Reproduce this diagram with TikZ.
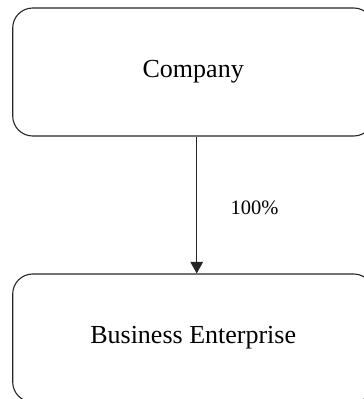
\documentclass[tikz,border=0pt]{standalone}
\usepackage{fontspec}
\setmainfont{Liberation Serif}
\usetikzlibrary{arrows.meta}
\begin{document}
\begin{tikzpicture}[x=1pt,y=-1pt,
  entity/.style={draw=black!85, line width=1.1pt, rounded corners=20pt,
    minimum width=361pt, minimum height=128pt, inner sep=0pt,
    font=\fontsize{26}{30}\selectfont},
  link/.style={draw=black!85, line width=1.1pt,
    -{Triangle[width=12.6pt,length=11.6pt]}},
  share/.style={font=\fontsize{20.5}{24}\selectfont, anchor=base, inner sep=0pt}]
  \useasboundingbox (0,0) rectangle (364,399);
  \clip (0,0) rectangle (364,399);
  \node[entity] (company) at (193.2,72) {Company};
  \node[entity] (enterprise) at (193.2,338) {Business Enterprise};
  \coordinate (ax) at (196.7,0);
  \draw[link] (company.south -| ax) -- (enterprise.north -| ax);
  \node[share] (pct) at (254.5,214.3) {100\%};
\end{tikzpicture}
\end{document}
